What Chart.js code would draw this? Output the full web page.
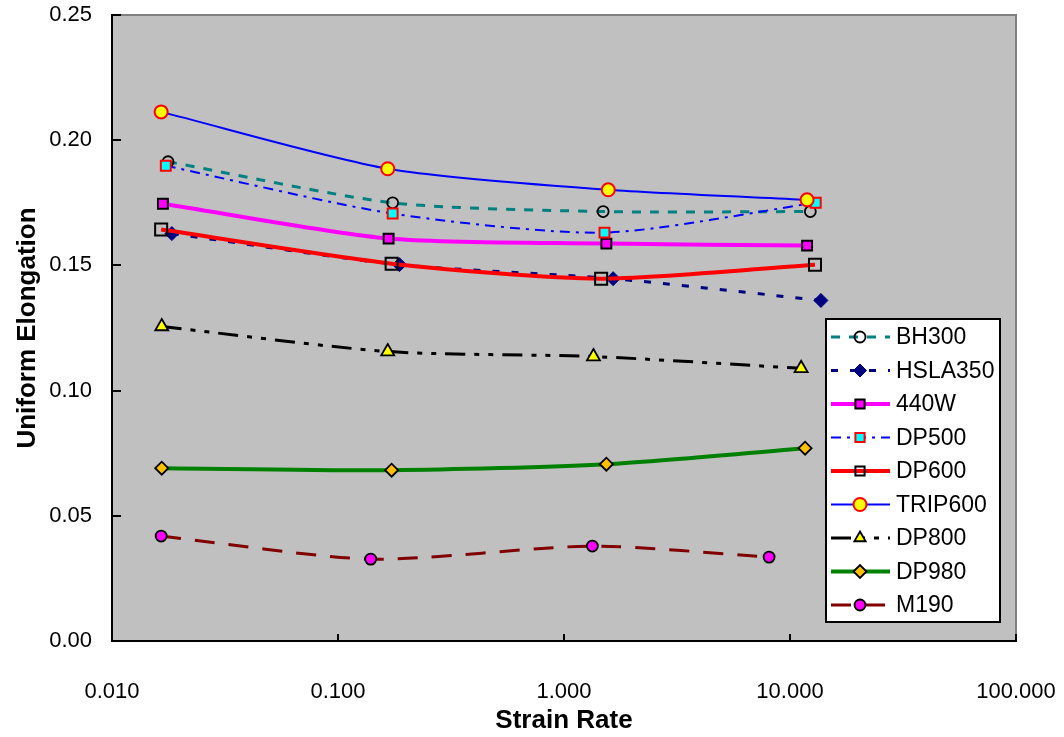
<!DOCTYPE html>
<html>
<head>
<meta charset="utf-8">
<script src="https://cdn.jsdelivr.net/npm/chart.js@4/dist/chart.umd.min.js"></script>
<style>
html, body { margin: 0; padding: 0; background: #fff; }
#wrap { width: 1064px; height: 737px; }
</style>
</head>
<body>
<div id="wrap"><canvas id="elongationChart" width="1064" height="737"></canvas></div>
<script>
// series names, in legend order
const seriesNames = ['BH300', 'HSLA350', '440W', 'DP500', 'DP600', 'TRIP600', 'DP800', 'DP980', 'M190'];

// strain rate (x) and uniform elongation (y) for each series
const rateBH300 = [0.0177, 0.1745, 1.49, 12.3];
const elongBH300 = [0.1914, 0.1750, 0.1715, 0.1715];

const rateHSLA350 = [0.0184, 0.187, 1.65, 13.7];
const elongHSLA350 = [0.1627, 0.1503, 0.1447, 0.1360];

const rate440W = [0.0168, 0.1675, 1.54, 11.9];
const elong440W = [0.1746, 0.1607, 0.1587, 0.1579];

const rateDP500 = [0.0173, 0.1745, 1.51, 13.0];
const elongDP500 = [0.1898, 0.1707, 0.1631, 0.1750];

const rateDP600 = [0.0165, 0.1727, 1.46, 12.9];
const elongDP600 = [0.1643, 0.1507, 0.1447, 0.1503];

const rateTRIP600 = [0.0165, 0.166, 1.57, 11.9];
const elongTRIP600 = [0.2113, 0.1886, 0.1802, 0.1762];

const rateDP800 = [0.0166, 0.166, 1.35, 11.2];
const elongDP800 = [0.1256, 0.1156, 0.1136, 0.1089];

const rateDP980 = [0.0166, 0.1727, 1.54, 11.66];
const elongDP980 = [0.0690, 0.0682, 0.0706, 0.0770];

const rateM190 = [0.0165, 0.1395, 1.335, 8.08];
const elongM190 = [0.0419, 0.0327, 0.0379, 0.0335];

// axis ticks
const xTickValues = [0.01, 0.1, 1, 10, 100];
const xTickLabels = ['0.010', '0.100', '1.000', '10.000', '100.000'];
const yTickValues = [0, 0.05, 0.10, 0.15, 0.20, 0.25];
const yTickLabels = ['0.00', '0.05', '0.10', '0.15', '0.20', '0.25'];

const seriesRates = [rateBH300, rateHSLA350, rate440W, rateDP500, rateDP600, rateTRIP600, rateDP800, rateDP980, rateM190];
const seriesElongs = [elongBH300, elongHSLA350, elong440W, elongDP500, elongDP600, elongTRIP600, elongDP800, elongDP980, elongM190];

// look of each series
const seriesStyles = [
    { line: '#008080', width: 3, dash: [9, 9], point: 'circle', radius: 5.5, fill: 'rgba(0,0,0,0)', edge: '#000000', edgeWidth: 1.8 },
    { line: '#000080', width: 3, dash: [7, 12], point: 'rectRot', radius: 7, fill: '#000080', edge: '#000080', edgeWidth: 1 },
    { line: '#FF00FF', width: 4, dash: [], point: 'rect', radius: 7, fill: '#FF00FF', edge: '#000000', edgeWidth: 2 },
    { line: '#0000FF', width: 2, dash: [10, 6, 3, 6], point: 'rect', radius: 7, fill: '#00FFFF', edge: '#FF0000', edgeWidth: 2 },
    { line: '#FF0000', width: 4, dash: [], point: 'rect', radius: 8.5, fill: 'rgba(0,0,0,0)', edge: '#000000', edgeWidth: 2 },
    { line: '#0000FF', width: 2, dash: [], point: 'circle', radius: 6.5, fill: '#FFFF00', edge: '#FF0000', edgeWidth: 2 },
    { line: '#000000', width: 3, dash: [20, 9, 5, 9, 5, 9], point: 'triangle', radius: 7.5, fill: '#FFFF00', edge: '#000000', edgeWidth: 1.8 },
    { line: '#008000', width: 4, dash: [], point: 'rectRot', radius: 6.5, fill: '#FFC000', edge: '#000000', edgeWidth: 1.8 },
    { line: '#800000', width: 3, dash: [20, 14], point: 'circle', radius: 5.5, fill: '#FF00FF', edge: '#000000', edgeWidth: 1.8 }
];

const fontFamily = "'Liberation Sans', Arial, sans-serif";

const datasets = seriesNames.map(function (name, i) {
    const s = seriesStyles[i];
    return {
        label: name,
        data: seriesRates[i].map(function (x, j) { return { x: x, y: seriesElongs[i][j] }; }),
        borderColor: s.line,
        borderWidth: s.width,
        borderDash: s.dash,
        tension: 0.25,
        fill: false,
        pointStyle: s.point,
        pointRadius: s.radius,
        pointHoverRadius: s.radius,
        pointBackgroundColor: s.fill,
        pointBorderColor: s.edge,
        pointBorderWidth: s.edgeWidth,
        order: seriesNames.length - i
    };
});

// stop the scales from adding room for overhanging labels
function noOverhang(scale) {
    scale.paddingTop = 0;
    scale.paddingBottom = 0;
    scale.paddingLeft = 0;
    scale.paddingRight = 0;
}

// gray plot area, frame and inward tick marks
const framePlugin = {
    id: 'frame',
    beforeDatasetsDraw: function (chart) {
        const a = chart.chartArea;
        const ctx = chart.ctx;
        ctx.save();
        ctx.fillStyle = '#C0C0C0';
        ctx.fillRect(a.left, a.top, a.right - a.left, a.bottom - a.top);
        ctx.restore();
    },
    afterDatasetsDraw: function (chart) {
        const a = chart.chartArea;
        const ctx = chart.ctx;
        const xs = chart.scales.x;
        const ys = chart.scales.y;
        ctx.save();
        ctx.strokeStyle = '#808080';
        ctx.lineWidth = 2;
        ctx.beginPath();
        ctx.moveTo(a.left, a.top);
        ctx.lineTo(a.right, a.top);
        ctx.lineTo(a.right, a.bottom);
        ctx.stroke();

        ctx.strokeStyle = '#000000';
        ctx.lineWidth = 2;
        ctx.beginPath();
        ctx.moveTo(a.left, a.top - 1);
        ctx.lineTo(a.left, a.bottom);
        ctx.lineTo(a.right + 1, a.bottom);
        ctx.stroke();

        ctx.beginPath();
        yTickValues.forEach(function (v) {
            const py = Math.round(ys.getPixelForValue(v));
            ctx.moveTo(a.left, py);
            ctx.lineTo(a.left + 9, py);
        });
        xTickValues.forEach(function (v) {
            const px = Math.round(xs.getPixelForValue(v));
            ctx.moveTo(px, a.bottom);
            ctx.lineTo(px, a.bottom - 7);
        });
        ctx.stroke();
        ctx.restore();
    }
};

// legend box with line samples and markers
const legendPlugin = {
    id: 'sampleLegend',
    afterDraw: function (chart) {
        const ctx = chart.ctx;
        const boxLeft = 826, boxTop = 319, boxRight = 1000, boxBottom = 622;
        ctx.save();
        ctx.fillStyle = '#FFFFFF';
        ctx.fillRect(boxLeft, boxTop, boxRight - boxLeft, boxBottom - boxTop);
        ctx.strokeStyle = '#000000';
        ctx.lineWidth = 2;
        ctx.strokeRect(boxLeft, boxTop, boxRight - boxLeft, boxBottom - boxTop);

        seriesNames.forEach(function (name, i) {
            const s = seriesStyles[i];
            const y = 337 + i * 33.5;
            ctx.save();
            ctx.strokeStyle = s.line;
            ctx.lineWidth = s.width;
            ctx.setLineDash(s.dash);
            ctx.beginPath();
            ctx.moveTo(831, y);
            ctx.lineTo(890, y);
            ctx.stroke();
            ctx.restore();

            ctx.save();
            ctx.fillStyle = s.fill;
            ctx.strokeStyle = s.edge;
            ctx.lineWidth = s.edgeWidth;
            Chart.helpers.drawPoint(ctx, {
                pointStyle: s.point,
                radius: Math.min(s.radius, 6.5),
                rotation: 0,
                borderWidth: s.edgeWidth
            }, 860, y);
            ctx.restore();

            ctx.fillStyle = '#000000';
            ctx.font = '23px ' + fontFamily;
            ctx.textAlign = 'left';
            ctx.textBaseline = 'middle';
            ctx.fillText(name, 896, y + 1);
        });
        ctx.restore();
    }
};

const ctx = document.getElementById('elongationChart').getContext('2d');
const elongationChart = new Chart(ctx, {
    type: 'line',
    data: { datasets: datasets },
    options: {
        responsive: false,
        animation: false,
        layout: { padding: { left: 0, top: 15, right: 48, bottom: 0 } },
        scales: {
            x: {
                type: 'logarithmic',
                min: 0.01,
                max: 100,
                grid: { display: false, drawTicks: false },
                border: { display: false },
                afterFit: function (scale) { scale.height = 96; noOverhang(scale); },
                afterBuildTicks: function (scale) {
                    scale.ticks = xTickValues.map(function (v) { return { value: v }; });
                },
                ticks: {
                    autoSkip: false,
                    maxRotation: 0,
                    padding: 38,
                    color: '#000000',
                    font: { family: fontFamily, size: 22 },
                    callback: function (value) {
                        const k = xTickValues.indexOf(value);
                        return k >= 0 ? xTickLabels[k] : '';
                    }
                },
                title: {
                    display: true,
                    text: 'Strain Rate',
                    color: '#000000',
                    font: { family: fontFamily, size: 26, weight: 'bold', lineHeight: 1 },
                    padding: { top: 0, bottom: 3 }
                }
            },
            y: {
                type: 'linear',
                min: 0,
                max: 0.25,
                grid: { display: false, drawTicks: false },
                border: { display: false },
                afterFit: function (scale) { scale.width = 112; noOverhang(scale); },
                afterBuildTicks: function (scale) {
                    scale.ticks = yTickValues.map(function (v) { return { value: v }; });
                },
                ticks: {
                    padding: 20,
                    color: '#000000',
                    font: { family: fontFamily, size: 22 },
                    callback: function (value, index) {
                        return yTickLabels[index];
                    }
                },
                title: {
                    display: true,
                    text: 'Uniform Elongation',
                    color: '#000000',
                    font: { family: fontFamily, size: 26, weight: 'bold', lineHeight: 1 },
                    padding: { top: 15, bottom: 0 }
                }
            }
        },
        plugins: {
            legend: { display: false },
            tooltip: { enabled: false }
        }
    },
    plugins: [framePlugin, legendPlugin]
});
</script>
</body>
</html>
